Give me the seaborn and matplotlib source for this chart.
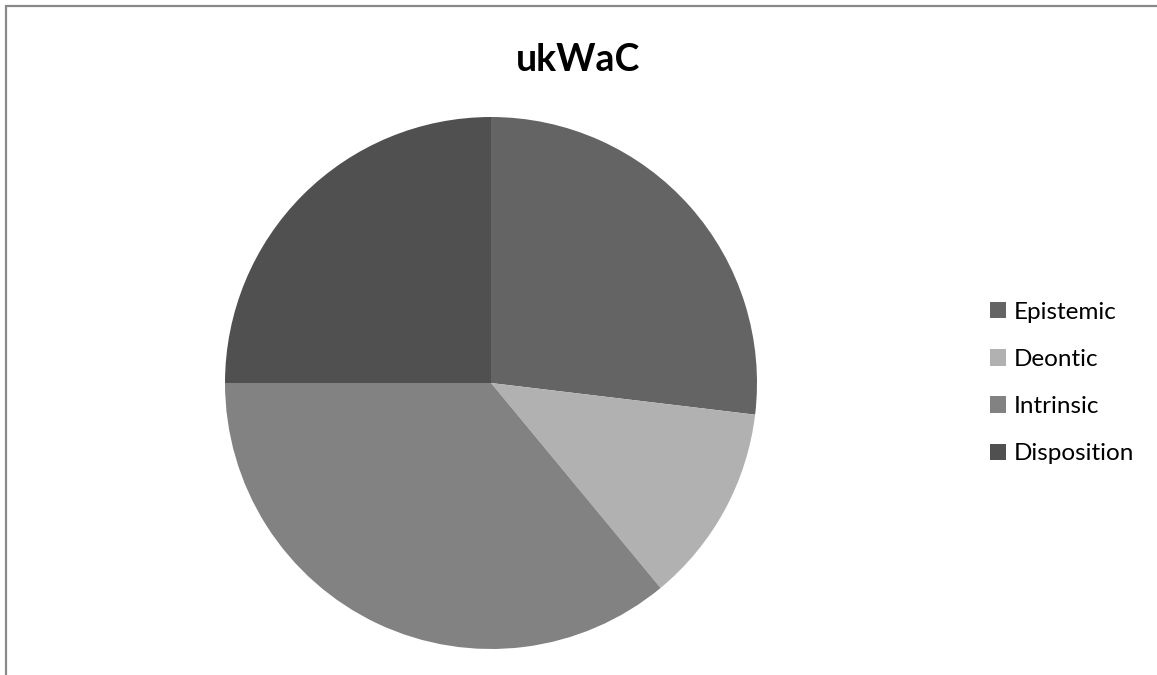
import matplotlib
matplotlib.use("Agg")
import matplotlib.pyplot as plt
import seaborn as sns
from matplotlib.patches import Rectangle

# Share of modal readings in the ukWaC corpus
categories = ["Epistemic", "Deontic", "Intrinsic", "Disposition"]
shares = [26.9, 12.1, 36.0, 25.0]
slice_colors = ["#646464", "#b1b1b1", "#828282", "#505050"]
title = "ukWaC"

sns.set_theme(style="white")
plt.rcParams["font.family"] = ["Lato", "DejaVu Sans"]

W, H, DPI = 1157, 675, 100
fig = plt.figure(figsize=(W / DPI, H / DPI), dpi=DPI)
fig.patch.set_facecolor("white")

# Pie axes: centre at (491, 383) px from top-left, radius 266 px
cx, cy, r = 491, 383, 266
ax = fig.add_axes([(cx - r) / W, (H - cy - r) / H, 2 * r / W, 2 * r / H])
wedges, _ = ax.pie(shares, colors=slice_colors, startangle=90,
                   counterclock=False, radius=1.0,
                   wedgeprops=dict(linewidth=0))
ax.set_xlim(-1, 1)
ax.set_ylim(-1, 1)
ax.set_aspect("equal")
ax.axis("off")

fig.text(578 / W, 1 - 60 / H, title, ha="center", va="center",
         fontsize=27, fontweight="bold", color="black")

fs = 17.5
fig.legend(wedges, categories, loc="center left",
           bbox_to_anchor=(990 / W, 1 - 383 / H),
           frameon=False, fontsize=fs, handlelength=0.66,
           handleheight=0.66, handletextpad=0.3, labelspacing=1.08,
           borderpad=0, borderaxespad=0, labelcolor="black")

# Chart-area frame
fig.patches.append(Rectangle((6 / W, -0.1), 1.5, 1.1 - 6 / H,
                             transform=fig.transFigure, fill=False,
                             edgecolor="#898989", linewidth=1.6))

fig.savefig("out.png", dpi=DPI, facecolor="white")
